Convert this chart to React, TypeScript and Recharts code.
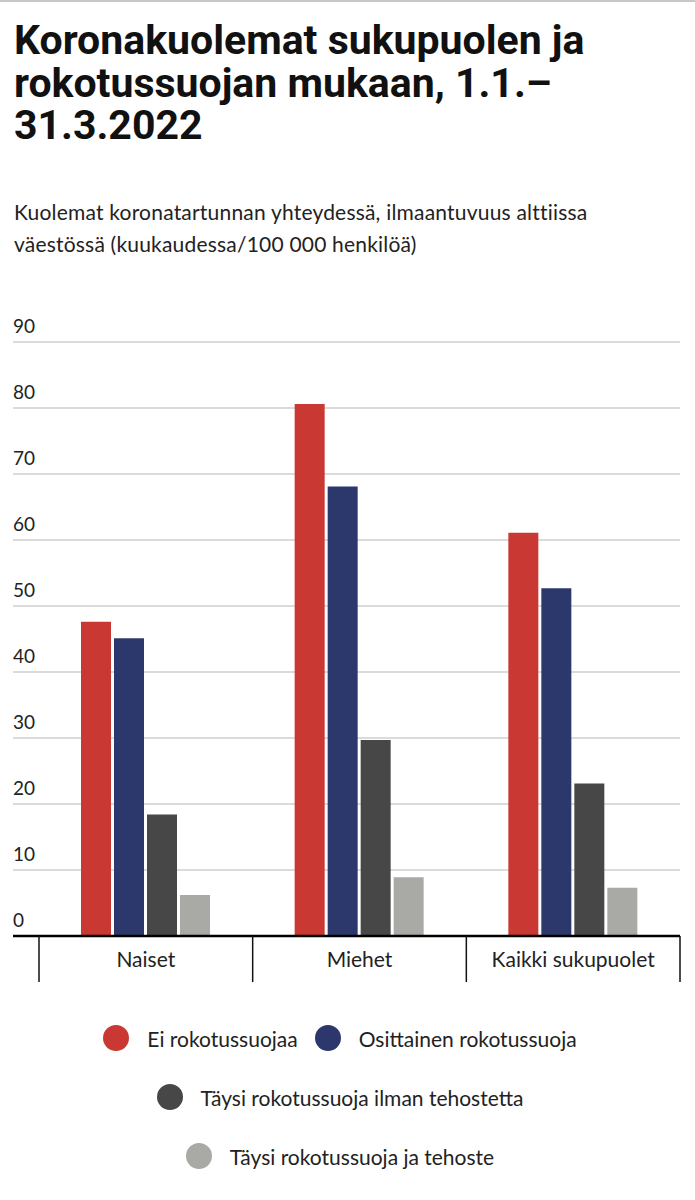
import { BarChart, Bar, XAxis, YAxis, CartesianGrid, Legend } from "recharts"

const categories = ["Naiset", "Miehet", "Kaikki sukupuolet"]
const eiSuojaa   = [47.6, 80.6, 61.1]
const osittainen = [45.1, 68.1, 52.7]
const taysiIlman = [18.4, 29.7, 23.1]
const taysiTeh   = [6.2, 8.9, 7.3]
const yTicks     = [0, 10, 20, 30, 40, 50, 60, 70, 80, 90]

const series = [
  { key: "ei",      name: "Ei rokotussuojaa",                    color: "#c93832" },
  { key: "osit",    name: "Osittainen rokotussuoja",             color: "#2c386b" },
  { key: "ilman",   name: "Täysi rokotussuoja ilman tehostetta", color: "#474747" },
  { key: "tehoste", name: "Täysi rokotussuoja ja tehoste",       color: "#a9aaa5" },
]

const data = categories.map((c, i) => ({
  cat: c,
  ei: eiSuojaa[i],
  osit: osittainen[i],
  ilman: taysiIlman[i],
  tehoste: taysiTeh[i],
}))

const FONT = "Lato, 'Open Sans', sans-serif"

function YTick(props: any) {
  const { x, y, payload } = props
  return (
    <text x={x} y={y - 9} textAnchor="start" fontSize={19} fill="#222" fontFamily={FONT}>
      {payload.value}
    </text>
  )
}

function XTick(props: any) {
  const { x, y, payload, index } = props
  const half = payload.offset ?? 0
  const last = index === categories.length - 1
  return (
    <g>
      <line x1={x - half} x2={x - half} y1={y} y2={y + 46} stroke="#111" strokeWidth={1.5} />
      {last && <line x1={x + half} x2={x + half} y1={y} y2={y + 46} stroke="#111" strokeWidth={1.5} />}
      <text x={x} y={y + 31} textAnchor="middle" fontSize={21} fill="#222" fontFamily={FONT}>
        {payload.value}
      </text>
    </g>
  )
}

function LegendBox() {
  return (
    <div style={{
      width: 695, height: 190, boxSizing: "border-box", paddingTop: 29, paddingLeft: 70, paddingRight: 85,
      display: "flex", flexWrap: "wrap", justifyContent: "center", alignContent: "flex-start",
      columnGap: 17, rowGap: 33, fontFamily: FONT, fontSize: 21, color: "#222",
    }}>
      {series.map(s => (
        <div key={s.key} style={{ display: "flex", alignItems: "center", height: 26 }}>
          <span style={{ width: 26, height: 26, borderRadius: 13, background: s.color, marginRight: 18, flex: "none" }} />
          <span style={{ whiteSpace: "nowrap" }}>{s.name}</span>
        </div>
      ))}
    </div>
  )
}

export default function App() {
  return (
    <div style={{
      position: "absolute", left: 0, top: 0, width: 695, height: 1200, background: "#fff",
      borderTop: "2px solid #c8c8c8", boxSizing: "border-box",
    }}>
      <div style={{
        position: "absolute", left: 14, top: 17, width: 670,
        fontFamily: "Roboto, sans-serif", fontWeight: 700, fontSize: 41, lineHeight: "42.5px",
        color: "#111",
      }}>
        Koronakuolemat sukupuolen ja<br />rokotussuojan mukaan, 1.1.–<br />31.3.2022
      </div>
      <div style={{
        position: "absolute", left: 14, top: 194, width: 670,
        fontFamily: FONT, fontSize: 21, lineHeight: "32px", color: "#222", letterSpacing: 0.2,
      }}>
        Kuolemat koronatartunnan yhteydessä, ilmaantuvuus alttiissa<br />väestössä (kuukaudessa/100 000 henkilöä)
      </div>
      <div style={{ position: "absolute", left: 0, top: 298 }}>
        <BarChart
          width={695} height={886} data={data}
          margin={{ top: 42, right: 15, bottom: 0, left: 13 }}
          barSize={30} barGap={3}
        >
          <CartesianGrid vertical={false} stroke="#cfcfcf" strokeWidth={1.5} />
          <YAxis
            mirror width={40} domain={[0, 90]} ticks={yTicks} interval={0}
            axisLine={false} tickLine={false} tickSize={0} tickMargin={0}
            tick={<YTick />}
          />
          <XAxis
            dataKey="cat" height={60} padding={{ left: 26, right: 0 }}
            axisLine={{ stroke: "#000", strokeWidth: 2.5 }} tickLine={false} tickSize={0} tickMargin={0}
            tick={<XTick />} interval={0}
          />
          <Legend verticalAlign="bottom" wrapperStyle={{ left: 0, width: 695 }} content={() => <LegendBox />} />
          {series.map(s => (
            <Bar key={s.key} dataKey={s.key} name={s.name} fill={s.color} isAnimationActive={false} />
          ))}
        </BarChart>
      </div>
    </div>
  )
}
